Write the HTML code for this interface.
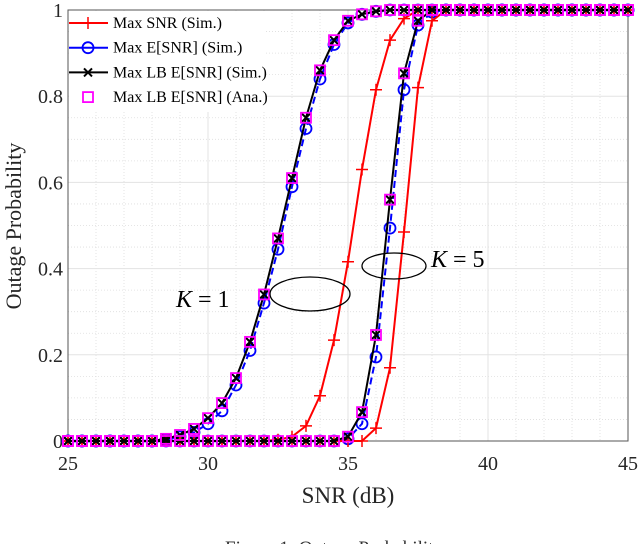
<!DOCTYPE html>
<html><head><meta charset="utf-8"><style>
html,body{margin:0;padding:0;background:#fff;width:640px;height:544px;overflow:hidden}
svg{display:block;font-family:"Liberation Serif",serif}
</style></head><body>
<svg id="chart" width="640" height="544" xmlns="http://www.w3.org/2000/svg"></svg>
<script>
const xs = [25,25.5,26,26.5,27,27.5,28,28.5,29,29.5,30,30.5,31,31.5,32,32.5,33,33.5,34,34.5,35,35.5,36,36.5,37,37.5,38,38.5,39,39.5,40,40.5,41,41.5,42,42.5,43,43.5,44,44.5,45];
const snrK1 = [0,0,0,0,0,0,0,0,0,0,0,0,0,0,0,0.003,0.01,0.035,0.105,0.234,0.416,0.63,0.815,0.93,0.98,1,1,1,1,1,1,1,1,1,1,1,1,1,1,1,1];
const snrK5 = [0,0,0,0,0,0,0,0,0,0,0,0,0,0,0,0,0,0,0,0,0,0,0.03,0.17,0.485,0.82,0.975,1,1,1,1,1,1,1,1,1,1,1,1,1,1];
const esnrK1 = [0,0,0,0,0,0,0,0.003,0.01,0.02,0.04,0.07,0.13,0.21,0.32,0.445,0.59,0.725,0.84,0.92,0.97,0.99,0.997,1,1,1,1,1,1,1,1,1,1,1,1,1,1,1,1,1,1];
const esnrK5 = [0,0,0,0,0,0,0,0,0,0,0,0,0,0,0,0,0,0,0,0,0.005,0.04,0.195,0.494,0.815,0.965,0.995,1,1,1,1,1,1,1,1,1,1,1,1,1,1];
const lbK1 = [0,0,0,0,0,0,0,0.005,0.014,0.028,0.053,0.088,0.146,0.23,0.34,0.47,0.61,0.75,0.86,0.93,0.975,0.99,0.997,1,1,1,1,1,1,1,1,1,1,1,1,1,1,1,1,1,1];
const lbK5 = [0,0,0,0,0,0,0,0,0,0,0,0,0,0,0,0,0,0,0,0,0.01,0.067,0.246,0.56,0.853,0.975,1,1,1,1,1,1,1,1,1,1,1,1,1,1,1];
const xTicks = [25,30,35,40,45];
const yTicks = [0,0.2,0.4,0.6,0.8,1];
const yTickLabels = ["0","0.2","0.4","0.6","0.8","1"];

const L=68,R=628,T=10,B=441;
const X=v=>L+(v-25)/(45-25)*(R-L);
const Y=v=>B-v*(B-T);
const svg=document.getElementById('chart');
const NS='http://www.w3.org/2000/svg';
function mk(tag,attrs,parent){const e=document.createElementNS(NS,tag);for(const k in attrs)e.setAttribute(k,attrs[k]);(parent||svg).appendChild(e);return e;}

const grid=mk('g',{});


for(let v=26;v<45;v++){ if(v%5) mk('line',{x1:X(v),x2:X(v),y1:T,y2:B,stroke:'#ddd','stroke-dasharray':'1,2','stroke-width':0.8},grid);}
for(let i=1;i<20;i++){ if(i%4) mk('line',{x1:L,x2:R,y1:Y(i*0.05),y2:Y(i*0.05),stroke:'#ddd','stroke-dasharray':'1,2','stroke-width':0.8},grid);}
xTicks.forEach(v=>mk('line',{x1:X(v),x2:X(v),y1:T,y2:B,stroke:'#e3e3e3','stroke-width':1},grid));
yTicks.forEach(v=>mk('line',{x1:L,x2:R,y1:Y(v),y2:Y(v),stroke:'#e3e3e3','stroke-width':1},grid));

const frame=mk('rect',{x:L,y:T,width:R-L,height:B-T,fill:'none',stroke:'#555','stroke-width':1});



xTicks.forEach(v=>{
  const t=mk('text',{x:X(v),y:470,'text-anchor':'middle','font-size':20,fill:'#262626'});
  t.textContent=v;
  
  
});
yTicks.forEach((v,i)=>{
  const t=mk('text',{x:L-5,y:Y(v)+7,'text-anchor':'end','font-size':20,fill:'#262626'});
  t.textContent=yTickLabels[i];
  
  
});

function series(vals,color,dash,marker,name){
  const g=mk('g',{});
  
  
  if(color){
    mk('polyline',{points:vals.map((v,i)=>X(xs[i])+','+Y(v)).join(' '),fill:'none',stroke:color,'stroke-width':2,'stroke-dasharray':dash||'none'},g);
  }
  vals.forEach((v,i)=>drawMarker(g,marker,X(xs[i]),Y(v)));
  return g;
}
function drawMarker(g,m,x,y){
  if(m==='plus'){mk('path',{d:`M${x-6},${y}H${x+6}M${x},${y-6}V${y+6}`,stroke:'#f00','stroke-width':1.5},g);}
  else if(m==='circle'){mk('circle',{cx:x,cy:y,r:5.5,fill:'none',stroke:'#00f','stroke-width':1.8},g);}
  else if(m==='x'){mk('path',{d:`M${x-4},${y-4}L${x+4},${y+4}M${x-4},${y+4}L${x+4},${y-4}`,stroke:'#000','stroke-width':2},g);}
  else if(m==='square'){mk('rect',{x:x-5,y:y-5,width:10,height:10,fill:'none',stroke:'#f0f','stroke-width':1.8},g);}
}
series(esnrK1,'#00f','7,4','circle','series-max-esnr-k1');
series(esnrK5,'#00f','7,4','circle','series-max-esnr-k5');
series(snrK1,'#f00',null,'plus','series-max-snr-k1');
series(snrK5,'#f00',null,'plus','series-max-snr-k5');
series(lbK1,'#000',null,'x','series-max-lb-k1');
series(lbK5,'#000',null,'x','series-max-lb-k5');
series(lbK1,null,null,'square','series-ana-k1');
series(lbK5,null,null,'square','series-ana-k5');

const e1=mk('ellipse',{cx:310,cy:294,rx:40,ry:17,fill:'none',stroke:'#000','stroke-width':1.3});

const e2=mk('ellipse',{cx:394,cy:266,rx:32,ry:13,fill:'none',stroke:'#000','stroke-width':1.3});

const a1=mk('text',{x:176,y:307,'font-size':24,fill:'#000'});
a1.innerHTML='<tspan font-style="italic">K</tspan> = 1';

const a2=mk('text',{x:431,y:267,'font-size':24,fill:'#000'});
a2.innerHTML='<tspan font-style="italic">K</tspan> = 5';


const lg=mk('g',{});


mk('rect',{x:L+1,y:T+1,width:196,height:101,fill:'#fff'},lg);
const entries=[['Max SNR (Sim.)','#f00','none','plus'],['Max E[SNR] (Sim.)','#00f','none','circle'],['Max LB E[SNR] (Sim.)','#000','none','x'],['Max LB E[SNR] (Ana.)',null,'none','square']];
entries.forEach((e,i)=>{
  const y=23+i*24.7;
  const eg=mk('g',{},lg);
  
  
  if(e[1]) mk('line',{x1:69,x2:108,y1:y,y2:y,stroke:e[1],'stroke-width':2},eg);
  drawMarker(eg,e[3],88,y);
  const t=mk('text',{x:113,y:y+5,'font-size':16,fill:'#000'},eg);
  t.textContent=e[0];
});

const xt=mk('text',{x:348,y:503,'text-anchor':'middle','font-size':23,fill:'#262626'});
xt.textContent='SNR (dB)';

const yt=mk('text',{x:0,y:0,'text-anchor':'middle','font-size':22,fill:'#262626',transform:'translate(21,226) rotate(-90)'});
yt.textContent='Outage Probability';

const cap=mk('text',{x:334,y:554,'text-anchor':'middle','font-size':19,fill:'#333'});
cap.textContent='Figure 1: Outage Probability';

</script>
</body></html>
